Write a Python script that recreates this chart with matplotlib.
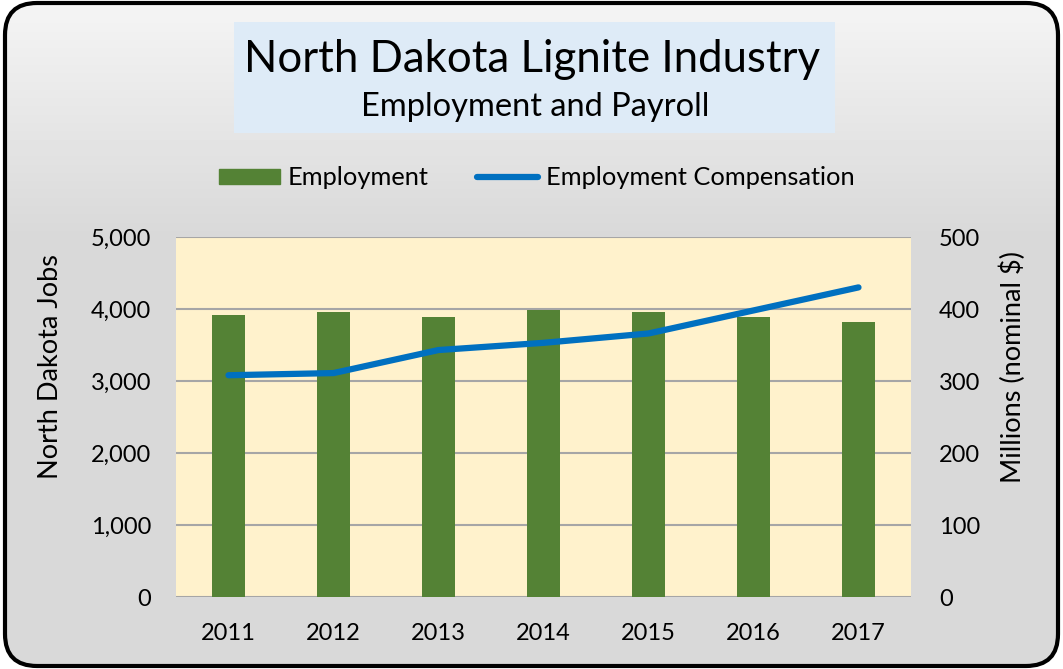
import matplotlib
matplotlib.use("Agg")
import matplotlib.pyplot as plt
import numpy as np
from matplotlib.patches import FancyBboxPatch, Rectangle, Patch
from matplotlib.lines import Line2D
from matplotlib.ticker import FuncFormatter

plt.rcParams['font.family'] = ['Lato', 'DejaVu Sans']

# datos
years = ['2011', '2012', '2013', '2014', '2015', '2016', '2017']
employment = [3920, 3960, 3885, 3985, 3960, 3885, 3820]
compensation = [308, 311, 343, 353, 366, 398, 430]

fig = plt.figure(figsize=(10.63, 6.69), dpi=100)

# fondo con degradado y borde redondeado
bg = fig.add_axes([0, 0, 1, 1])
bg.set_xlim(0, 1063)
bg.set_ylim(669, 0)
bg.axis('off')
g = np.linspace(0, 1, 669)
shade = np.clip(0.96 - 0.11 * g / 0.35, 0.85, 0.96)
img = np.repeat(shade[:, None], 10, axis=1)
im = bg.imshow(img, cmap='gray', vmin=0, vmax=1, extent=[0, 1063, 669, 0], aspect='auto')
border = FancyBboxPatch((5, 3), 1053, 663, boxstyle="round,pad=0,rounding_size=32",
                        fc='none', ec='black', lw=3, zorder=5)
bg.add_patch(border)
im.set_clip_path(border)

# caja del titulo
bg.add_patch(Rectangle((234, 22), 601, 111, fc='#DEEBF7', ec='none', zorder=2))
fig.text(0.5, 1 - 59 / 669, 'North Dakota Lignite Industry', ha='center', va='center', fontsize=31.5)
fig.text(0.503, 1 - 107 / 669, 'Employment and Payroll', ha='center', va='center', fontsize=23.5)

# grafica principal
ax = fig.add_axes([176 / 1063, 1 - 597 / 669, 735 / 1063, 360 / 669])
ax.set_facecolor('#FFF2CC')
x = np.arange(len(years))
ax.bar(x, employment, width=0.32, color='#548235', zorder=3)
ax.set_xlim(-0.5, len(years) - 0.5)
ax.set_ylim(0, 5000)
ax.set_yticks(range(0, 5001, 1000))
ax.yaxis.set_major_formatter(FuncFormatter(lambda v, p: f'{int(v):,}'))
ax.set_xticks(x)
ax.set_xticklabels(years)
ax.grid(axis='y', color='#A6A6A6', lw=1.5, zorder=1)
for s in ax.spines.values():
    s.set_visible(False)
ax.tick_params(length=0, labelsize=17, pad=18)
ax.tick_params(axis='x', pad=19)
ax.set_ylabel('North Dakota Jobs', fontsize=19.5)
ax.yaxis.set_label_coords(-0.154, 0.64)

ax2 = ax.twinx()
ax2.plot(x, compensation, color='#0070C0', lw=4.5, solid_capstyle='round', zorder=4)
ax2.set_ylim(0, 500)
ax2.set_yticks(range(0, 501, 100))
for s in ax2.spines.values():
    s.set_visible(False)
ax2.tick_params(length=0, labelsize=17, pad=20)
ax2.set_ylabel('Millions (nominal $)', fontsize=19.5)
ax2.yaxis.set_label_coords(1.121, 0.64)

# leyenda
handles = [Patch(color='#548235'), Line2D([0], [0], color='#0070C0', lw=4.5, solid_capstyle='round')]
fig.legend(handles, ['Employment', 'Employment Compensation'], loc='center',
           bbox_to_anchor=(0.505, 1 - 178 / 669), ncol=2, frameon=False, fontsize=18.3,
           handlelength=2.4, handleheight=0.55, handletextpad=0.3, columnspacing=1.9)

fig.savefig('out.png', dpi=100, facecolor='white')
